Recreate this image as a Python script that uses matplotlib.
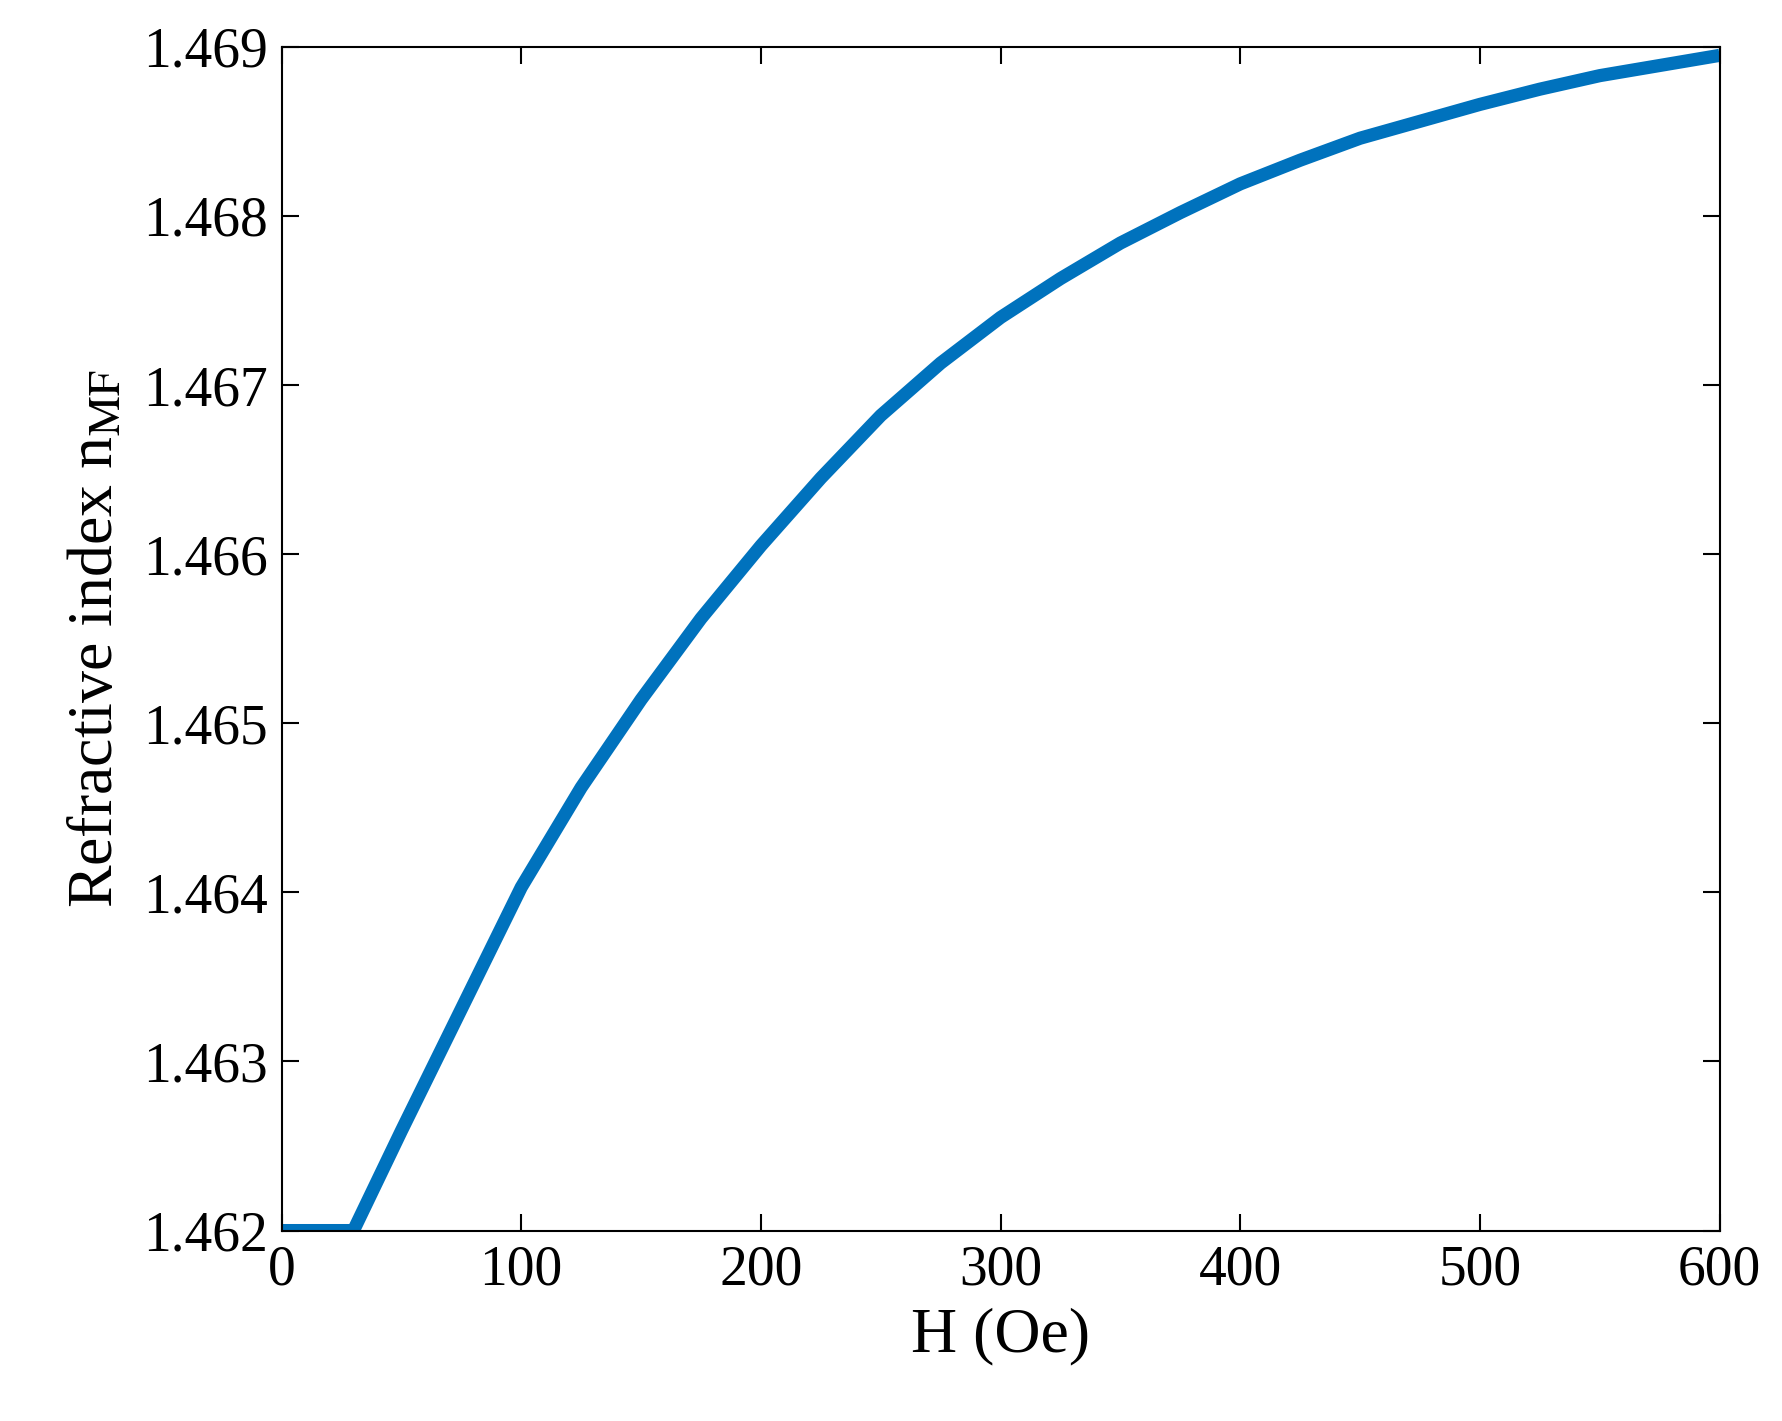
import matplotlib
matplotlib.use("Agg")
import matplotlib.pyplot as plt

# %% DATA
H_OE = [0, 10, 20, 30, 50, 75, 100, 125, 150, 175, 200, 225, 250, 275, 300,
        325, 350, 375, 400, 425, 450, 475, 500, 525, 550, 575, 600]
N_MF = [1.462, 1.462, 1.462, 1.462, 1.46259, 1.46331, 1.46403, 1.46462, 1.46514,
        1.46562, 1.46605, 1.46645, 1.46682, 1.46713, 1.46740, 1.46763, 1.46784,
        1.46802, 1.46819, 1.46833, 1.46846, 1.46856, 1.46866, 1.46875, 1.46883,
        1.46889, 1.46895]
X_TICKS = [0, 100, 200, 300, 400, 500, 600]
Y_TICKS = [1.462, 1.463, 1.464, 1.465, 1.466, 1.467, 1.468, 1.469]

# %% PLOT
plt.rcParams["font.family"] = ["Liberation Serif", "DejaVu Serif"]
plt.rcParams["mathtext.fontset"] = "stix"

fig = plt.figure(figsize=(17.82, 14.21), dpi=100)
ax = fig.add_axes([0.158, 0.134, 0.807, 0.833])
ax.plot(H_OE, N_MF, color="#0072BD", linewidth=9.5, solid_capstyle="butt",
        solid_joinstyle="round")

ax.set_xlim(0, 600)
ax.set_ylim(1.462, 1.469)
ax.set_xticks(X_TICKS)
ax.set_yticks(Y_TICKS)
ax.set_yticklabels([f"{v:.3f}" for v in Y_TICKS])
ax.tick_params(direction="in", top=True, right=True, labelsize=40,
               length=12, width=1.5, pad=10)
for s in ax.spines.values():
    s.set_linewidth(1.5)
ax.set_xlabel("H (Oe)", fontsize=46, labelpad=8)
ax.set_ylabel(r"Refractive index n$_{\rm MF}$", fontsize=46, labelpad=12)

fig.savefig("out.png", dpi=100)
